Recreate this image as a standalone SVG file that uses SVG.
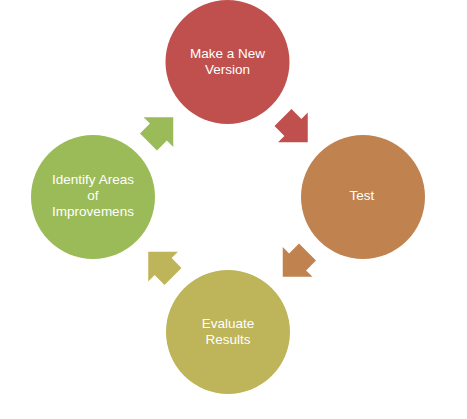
<svg xmlns="http://www.w3.org/2000/svg" width="467" height="419" viewBox="0 0 467 419">
<style>
.t{font-family:"Liberation Sans",Arial,sans-serif;font-size:13.5px;fill:#ffffff;text-anchor:middle}
.red{fill:#C0504D}.ora{fill:#C0834F}.oli{fill:#BEB45A}.grn{fill:#9BBB59}
</style>
<defs>
<polygon id="arr" points="0,-12 14,-12 14,-21 35,0 14,21 14,12 0,12"/>
</defs>
<rect width="467" height="419" fill="#ffffff"/>
<g id="connectors">
<use href="#arr" class="red" transform="translate(283,117.5) rotate(45)"/>
<use href="#arr" class="ora" transform="rotate(90 228 197) translate(283,117.5) rotate(45)"/>
<use href="#arr" class="oli" transform="rotate(180 228 197) translate(283,117.5) rotate(45)"/>
<use href="#arr" class="grn" transform="rotate(270 228 197) translate(283,117.5) rotate(45)"/>
</g>
<g id="make">
<circle cx="227.5" cy="62" r="62" class="red"/>
<text class="t" x="227.5" y="57.5">Make a New</text>
<text class="t" x="227.5" y="74">Version</text>
</g>
<g id="test">
<circle cx="363" cy="197" r="62" class="ora"/>
<text class="t" x="362" y="200">Test</text>
</g>
<g id="evaluate">
<circle cx="228" cy="332" r="62" class="oli"/>
<text class="t" x="228" y="327.5">Evaluate</text>
<text class="t" x="228" y="343.5">Results</text>
</g>
<g id="identify">
<circle cx="93" cy="197" r="62" class="grn"/>
<text class="t" x="93" y="184">Identify Areas</text>
<text class="t" x="93" y="200">of</text>
<text class="t" x="93" y="216">Improvemens</text>
</g>
</svg>
